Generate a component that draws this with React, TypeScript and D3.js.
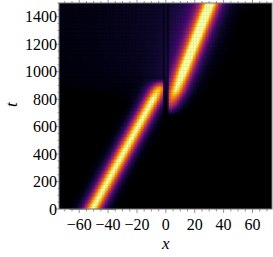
import React, { useRef, useEffect } from 'react';
import * as d3 from 'd3';

// tick labels
const xTicks = [-60, -40, -20, 0, 20, 40, 60];
const tTicks = [0, 200, 400, 600, 800, 1000, 1200, 1400];

// ridge of the incoming packet
const incidentT = [0, 200, 400, 600, 800, 880, 950];
const incidentX = [-51, -40.5, -30, -19.5, -9, -5, -2.5];
const incidentAmp = [1, 1, 1, 1, 1, 0.8, 0];

// ridge of the transmitted packet
const transmittedT = [680, 760, 860, 1000, 1200, 1400, 1500];
const transmittedX = [0.4, 3.2, 7.0, 12.2, 19.7, 27.2, 31.0];
const transmittedAmp = [0, 0.5, 0.9, 1, 1, 1, 1];

// faint radiation left behind after the collision
const glowT = [0, 750, 1000, 1300, 1500];
const glowAmp = [0, 0, 0.08, 0.11, 0.12];

// dark strips of the barrier
const barrierLeft = [-2.0, 0.6];
const barrierRight = [-0.8, 1.6];

const W = 273;
const H = 257;

export default function App() {
  const ref = useRef<SVGSVGElement | null>(null);

  useEffect(() => {
    if (!ref.current) return;
    const svg = d3.select(ref.current);
    svg.selectAll('*').remove();

    const x = d3.scaleLinear().domain([-74, 73.5]).range([59, 272]);
    const y = d3.scaleLinear().domain([0, 1500]).range([209, 3]);

    const cA = d3.scaleLinear().domain(incidentT).range(incidentX).clamp(true);
    const aA = d3.scaleLinear().domain(incidentT).range(incidentAmp).clamp(true);
    const cB = d3.scaleLinear().domain(transmittedT).range(transmittedX).clamp(true);
    const aB = d3.scaleLinear().domain(transmittedT).range(transmittedAmp).clamp(true);
    const gA = d3.scaleLinear().domain(glowT).range(glowAmp).clamp(true);
    const sech2 = (u: number) => { const c = Math.cosh(u); return 1 / (c * c); };
    const w = 5.8;

    const field = (px: number, pt: number) => {
      let v = 0;
      if (pt <= incidentT[incidentT.length - 1] && px < barrierRight[0]) {
        v += aA(pt) * sech2((px - cA(pt)) / w);
      }
      if (pt >= transmittedT[0] && px > barrierLeft[1]) {
        v += aB(pt) * sech2((px - cB(pt)) / w);
      }
      // halo around the outgoing packet + radiation on the left
      const g = gA(pt);
      v += g * 0.9 * Math.exp(-Math.pow((px - cB(pt)) / 18, 2));
      if (px < cB(pt)) v += g * Math.exp((px - cB(pt)) / 70);
      for (let i = 0; i < barrierLeft.length; i++) {
        if (px >= barrierLeft[i] && px <= barrierRight[i]) v *= 0.3;
      }
      return Math.min(1, v);
    };

    const cells: { x0: number; t0: number; v: number }[] = [];
    const dx = 1, dt = 10;
    for (let t0 = 0; t0 < 1500; t0 += dt) {
      for (let x0 = -74; x0 < 73.5; x0 += dx) {
        cells.push({ x0, t0, v: field(x0 + dx / 2, t0 + dt / 2) });
      }
    }

    const plot = svg.append('g');
    plot.append('rect').attr('x', 59).attr('y', 3).attr('width', 213).attr('height', 206).attr('fill', '#000');
    plot.selectAll('rect.c')
      .data(cells.filter(d => d.v > 0.015))
      .join('rect')
      .attr('class', 'c')
      .attr('x', d => x(d.x0))
      .attr('y', d => y(d.t0 + dt))
      .attr('width', x(dx) - x(0) + 0.4)
      .attr('height', y(0) - y(dt) + 0.4)
      .attr('fill', d => d3.interpolateInferno(d.v));

    // frame
    const frame = svg.append('g').attr('stroke', '#777').attr('fill', 'none');
    frame.append('rect').attr('x', 59).attr('y', 3).attr('width', 213).attr('height', 206).attr('stroke-width', 1);

    const ticks = svg.append('g').attr('stroke', '#777').attr('stroke-width', 0.8);
    d3.range(-70, 75, 5).forEach(v => {
      const major = v % 20 === 0;
      const px = x(v);
      ticks.append('line').attr('x1', px).attr('x2', px).attr('y1', 209).attr('y2', 209 + (major ? 4 : 2.5));
      ticks.append('line').attr('x1', px).attr('x2', px).attr('y1', 3).attr('y2', 3 - (major ? 3 : 2));
    });
    d3.range(0, 1501, 50).forEach(v => {
      const major = v % 200 === 0;
      const py = y(v);
      ticks.append('line').attr('y1', py).attr('y2', py).attr('x1', 59).attr('x2', 59 - (major ? 3 : 1.5));
    });

    const fmt = (v: number) => (v < 0 ? '\u2212' : '') + Math.abs(v);
    const labels = svg.append('g').attr('font-family', 'Liberation Serif, serif').attr('font-size', 16).attr('fill', '#000');
    labels.selectAll('text.xt').data(xTicks).join('text')
      .attr('class', 'xt')
      .attr('x', d => x(d))
      .attr('y', 230)
      .attr('text-anchor', 'middle')
      .text(fmt);
    labels.selectAll('text.yt').data(tTicks).join('text')
      .attr('class', 'yt')
      .attr('x', 57)
      .attr('y', d => y(d) + 5.5)
      .attr('text-anchor', 'end')
      .text(fmt);

    labels.append('text')
      .attr('x', x(0))
      .attr('y', 249)
      .attr('text-anchor', 'middle')
      .attr('font-style', 'italic')
      .attr('font-size', 17)
      .text('x');
    labels.append('text')
      .attr('transform', `translate(17,${y(760)}) rotate(-90)`)
      .attr('text-anchor', 'middle')
      .attr('font-style', 'italic')
      .attr('font-size', 17)
      .text('t');
  }, []);

  return (
    <svg
      ref={ref}
      width={W}
      height={H}
      style={{ position: 'absolute', left: 0, top: 0, background: '#fff' }}
    />
  );
}
